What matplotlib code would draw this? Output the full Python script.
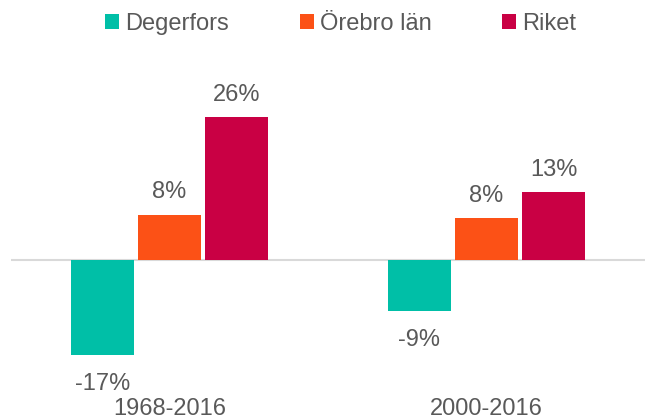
import numpy as np
import matplotlib.pyplot as plt
from matplotlib.patches import Patch

plt.rcParams['font.family'] = ['Liberation Sans', 'DejaVu Sans']

# データ
perioder = ['1968-2016', '2000-2016']
serier = ['Degerfors', 'Örebro län', 'Riket']
degerfors = [-17.4, -9.3]
orebro = [8.4, 7.7]
riket = [26.3, 12.6]

farger = ['#00BFA7', '#FC5116', '#C90044']
textfarg = '#595959'

fig = plt.figure(figsize=(6.45, 4.2), dpi=100)
ax = fig.add_axes([11 / 645, 23 / 420, 1 - 11 / 645, 337 / 420])

x = np.arange(len(perioder))
steg = 0.2115
bredd = 0.196
for i, (namn, varden) in enumerate(zip(serier, [degerfors, orebro, riket])):
    pos = x + (i - 1) * steg
    ax.bar(pos, varden, width=bredd, color=farger[i], zorder=2)
    for px, v in zip(pos, varden):
        # etiketter ovanför / under staplarna
        if v >= 0:
            ax.annotate(f'{v:.0f}%', (px, v), xytext=(0, 8), textcoords='offset points',
                        ha='center', va='bottom', fontsize=17, color=textfarg)
        else:
            ax.annotate(f'{v:.0f}%', (px, v), xytext=(0, -12.5), textcoords='offset points',
                        ha='center', va='top', fontsize=17, color=textfarg)

ax.axhline(0, color='#D9D9D9', linewidth=1.5, zorder=1)
ax.set_xlim(-0.5, 1.5)
ax.set_ylim(-25.0, 36.7)
ax.set_xticks(x)
ax.set_xticklabels(perioder, fontsize=17, color=textfarg)
ax.tick_params(axis='x', length=0, pad=1)
ax.set_yticks([])
for s in ax.spines.values():
    s.set_visible(False)

handles = [Patch(facecolor=c) for c in farger]
fig.legend(handles, serier, loc='center', bbox_to_anchor=(0.528, 0.944), ncol=3,
           frameon=False, fontsize=17, labelcolor=textfarg, handlelength=0.6,
           handleheight=0.6, handletextpad=0.25, columnspacing=3.0, borderpad=0)

fig.savefig('out.png', dpi=100)
